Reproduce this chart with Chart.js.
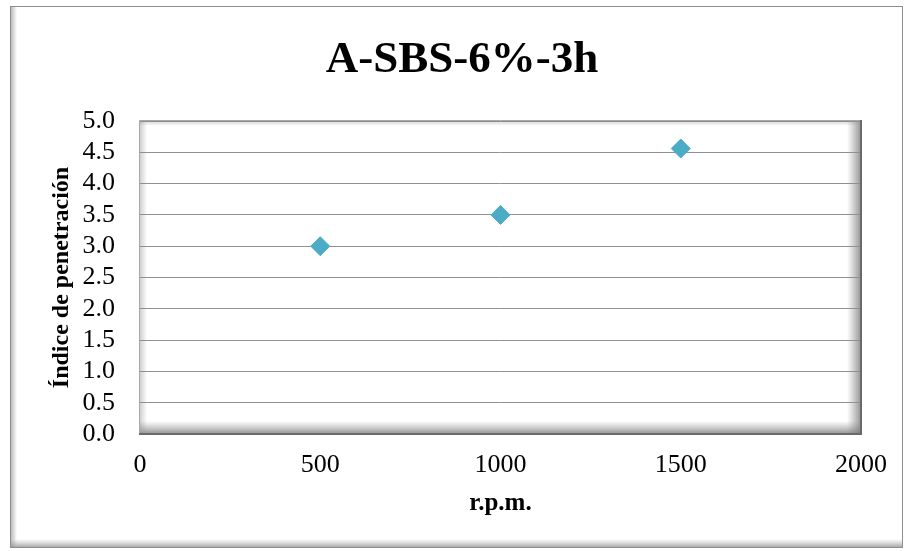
<!DOCTYPE html>
<html>
<head>
<meta charset="utf-8">
<script src="https://cdn.jsdelivr.net/npm/chart.js@4.4.1/dist/chart.umd.min.js"></script>
<style>
    html, body { margin: 0; padding: 0; background: #fff; }
    #wrap { position: relative; width: 907px; height: 551px; }
</style>
</head>
<body>
<div id="wrap"><canvas id="chart"></canvas></div>
<script>
const chartTitle = 'A-SBS-6%-3h';
const xTitle = 'r.p.m.';
const yTitle = 'Índice de penetración';

const rpm = [500, 1000, 1500];
const indice = [3.0, 3.5, 4.56];

const xMin = 0, xMax = 2000, xStep = 500;
const yMin = 0, yMax = 5, yStep = 0.5;

const serif = "'Liberation Serif', 'Times New Roman', serif";

// marco exterior y efecto biselado del area de trazado (estilo Excel)
const bevel = {
    id: 'bevel',
    beforeDraw(chart) {
        const { ctx, chartArea: a, width, height } = chart;
        ctx.save();
        ctx.fillStyle = '#fff';
        ctx.fillRect(0, 0, width, height);

        // sombra interior del marco exterior
        let g = ctx.createLinearGradient(11, 0, 17, 0);
        g.addColorStop(0, 'rgba(160,160,160,0.7)');
        g.addColorStop(1, 'rgba(160,160,160,0)');
        ctx.fillStyle = g;
        ctx.fillRect(11, 7, 6, 540);
        g = ctx.createLinearGradient(0, 539, 0, 547);
        g.addColorStop(0, 'rgba(170,170,170,0)');
        g.addColorStop(1, 'rgba(150,150,150,0.8)');
        ctx.fillStyle = g;
        ctx.fillRect(11, 539, 891, 8);
        ctx.strokeStyle = '#8e8e8e';
        ctx.lineWidth = 1;
        ctx.strokeRect(10.5, 6.5, 892, 541);

        // bisel del area de trazado
        g = ctx.createLinearGradient(a.right - 14, 0, a.right, 0);
        g.addColorStop(0, 'rgba(140,140,140,0)');
        g.addColorStop(1, 'rgba(120,120,120,0.8)');
        ctx.fillStyle = g;
        ctx.fillRect(a.right - 14, a.top, 14, a.bottom - a.top);

        g = ctx.createLinearGradient(0, a.bottom - 13, 0, a.bottom);
        g.addColorStop(0, 'rgba(140,140,140,0)');
        g.addColorStop(1, 'rgba(120,120,120,0.8)');
        ctx.fillStyle = g;
        ctx.fillRect(a.left, a.bottom - 13, a.right - a.left, 13);

        g = ctx.createLinearGradient(a.left, 0, a.left + 7, 0);
        g.addColorStop(0, 'rgba(150,150,150,0.45)');
        g.addColorStop(1, 'rgba(150,150,150,0)');
        ctx.fillStyle = g;
        ctx.fillRect(a.left, a.top, 7, a.bottom - a.top);

        g = ctx.createLinearGradient(0, a.top, 0, a.top + 5);
        g.addColorStop(0, 'rgba(150,150,150,0.4)');
        g.addColorStop(1, 'rgba(150,150,150,0)');
        ctx.fillStyle = g;
        ctx.fillRect(a.left, a.top, a.right - a.left, 5);
        ctx.restore();
    },
    afterDraw(chart) {
        const { ctx, chartArea: a } = chart;
        ctx.save();
        ctx.strokeStyle = '#a8a8a8';
        ctx.lineWidth = 1;
        ctx.beginPath();
        ctx.moveTo(a.left - 0.5, a.bottom);
        ctx.lineTo(a.left - 0.5, a.top - 0.5);
        ctx.lineTo(a.right, a.top - 0.5);
        ctx.stroke();
        ctx.strokeStyle = '#6a6a6a';
        ctx.lineWidth = 2;
        ctx.beginPath();
        ctx.moveTo(a.right, a.top - 1);
        ctx.lineTo(a.right, a.bottom);
        ctx.lineTo(a.left - 1, a.bottom);
        ctx.stroke();
        ctx.restore();
    }
};

const ctx = document.getElementById('chart').getContext('2d');
new Chart(ctx, {
    type: 'scatter',
    data: {
        datasets: [{
            label: yTitle,
            data: rpm.map((x, i) => ({ x: x, y: indice[i] })),
            pointStyle: 'rectRot',
            pointRadius: 9.5,
            pointHoverRadius: 9.5,
            backgroundColor: '#4BACC6',
            borderColor: '#4BACC6',
            borderWidth: 1,
            showLine: false
        }]
    },
    options: {
        responsive: true,
        maintainAspectRatio: false,
        animation: false,
        layout: { padding: { left: 17, right: 0, top: 6, bottom: 3 } },
        plugins: {
            legend: { display: false },
            tooltip: { enabled: false },
            title: {
                display: true,
                text: chartTitle,
                color: '#000',
                font: { family: serif, size: 45, weight: 'bold', lineHeight: 1.2 },
                padding: { top: 27, bottom: 34 }
            }
        },
        scales: {
            x: {
                type: 'linear',
                min: xMin,
                max: xMax,
                grid: { display: false, drawTicks: false },
                border: { display: false },
                ticks: {
                    stepSize: xStep,
                    autoSkip: false,
                    padding: 16,
                    color: '#000',
                    font: { family: serif, size: 26 },
                    maxRotation: 0,
                    callback: v => String(v)
                },
                title: {
                    display: true,
                    text: xTitle,
                    color: '#000',
                    font: { family: serif, size: 25, weight: 'bold', lineHeight: 1.2 },
                    padding: { top: 0, bottom: 29 }
                },
                afterFit: s => { s.height = 114; }
            },
            y: {
                type: 'linear',
                min: yMin,
                max: yMax,
                grid: { color: '#909090', lineWidth: 1, drawTicks: false },
                border: { display: false },
                ticks: {
                    stepSize: yStep,
                    autoSkip: false,
                    padding: 25,
                    color: '#000',
                    font: { family: serif, size: 26 },
                    callback: v => v.toFixed(1)
                },
                title: {
                    display: true,
                    text: yTitle,
                    color: '#000',
                    font: { family: serif, size: 24, weight: 'bold', lineHeight: 1.2 },
                    padding: { top: 30, bottom: 0 }
                },
                afterFit: s => { s.width = 123; }
            },
            yRight: {
                type: 'linear',
                position: 'right',
                display: true,
                grid: { display: false, drawTicks: false },
                border: { display: false },
                ticks: { display: false },
                afterFit: s => { s.width = 46; }
            }
        }
    },
    plugins: [bevel]
});
</script>
</body>
</html>
